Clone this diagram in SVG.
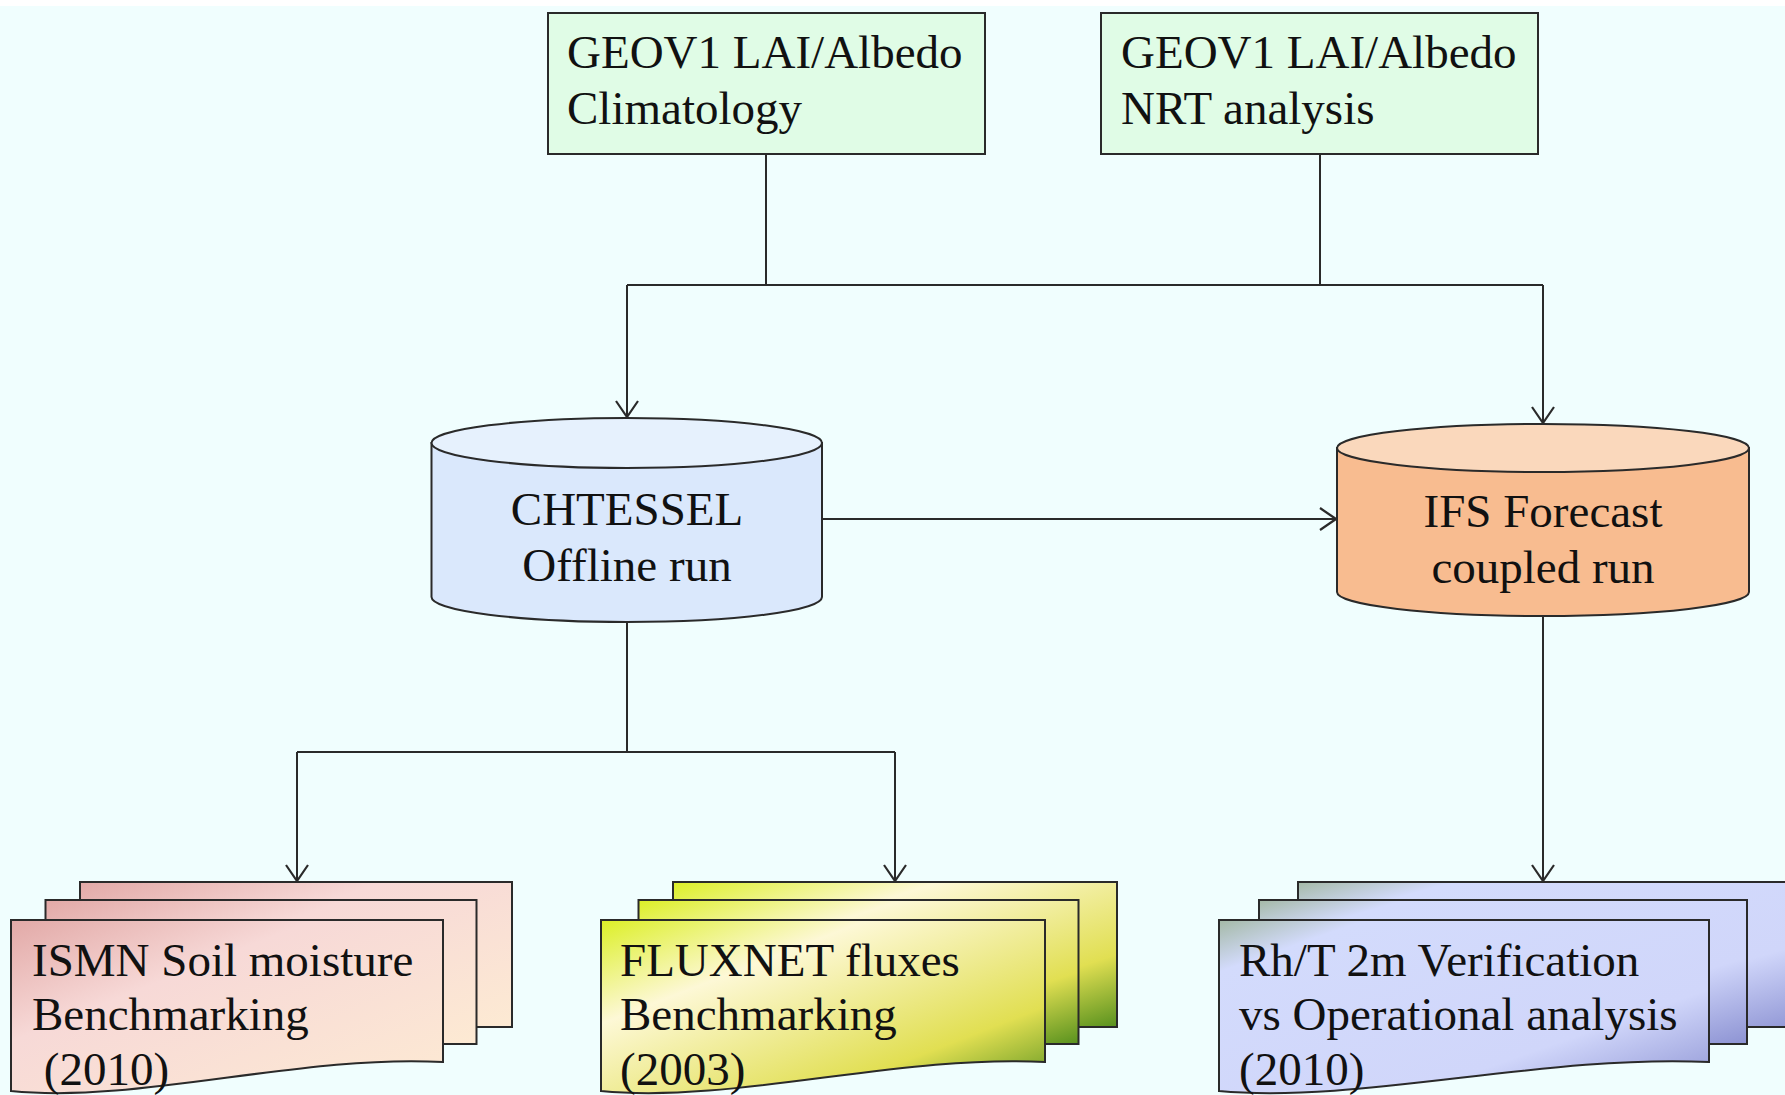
<svg xmlns="http://www.w3.org/2000/svg" width="1785" height="1095" viewBox="0 0 1785 1095">
<style>
.t{font-family:"Liberation Serif","Times New Roman",serif;font-size:47px;fill:#111}
.c{text-anchor:middle}
.box{fill:#e0fce6;stroke:#2a2a2a;stroke-width:2}
.ln{fill:none;stroke:#2a2a2a;stroke-width:2}
.pg{stroke:#2a2a2a;stroke-width:2}
</style>
<defs>
<marker id="ah" viewBox="0 0 18 24" refX="17" refY="12" markerWidth="18" markerHeight="24" markerUnits="userSpaceOnUse" orient="auto">
<path d="M1,1 L17,12 L1,23" fill="none" stroke="#2a2a2a" stroke-width="2.2"/>
</marker>
<linearGradient id="gIsmn" x1="0" y1="0" x2="1" y2="1">
<stop offset="0" stop-color="#e2a9a7"/><stop offset="0.35" stop-color="#f7d9d7"/><stop offset="1" stop-color="#fdead3"/>
</linearGradient>
<linearGradient id="gFlux" x1="0" y1="0" x2="1" y2="1">
<stop offset="0" stop-color="#dcef26"/><stop offset="0.3" stop-color="#fdf8d6"/><stop offset="0.75" stop-color="#e1df52"/><stop offset="1" stop-color="#58911e"/>
</linearGradient>
<linearGradient id="gRh" x1="0" y1="0" x2="1" y2="1">
<stop offset="0" stop-color="#a4b9a6"/><stop offset="0.15" stop-color="#d3dbfc"/><stop offset="0.7" stop-color="#d0d6fa"/><stop offset="1" stop-color="#8d93d3"/>
</linearGradient>
</defs>
<rect x="0" y="0" width="1785" height="1095" fill="#f0fefe"/>
<rect x="0" y="0" width="1785" height="6" fill="#ffffff"/>

<g id="connectors">
<path class="ln" d="M766,154 V285"/>
<path class="ln" d="M1320,154 V285"/>
<path class="ln" d="M627,285 H1543"/>
<path class="ln" d="M627,285 V417" marker-end="url(#ah)"/>
<path class="ln" d="M1543,285 V423" marker-end="url(#ah)"/>
<path class="ln" d="M822,519 H1336" marker-end="url(#ah)"/>
<path class="ln" d="M627,622 V752"/>
<path class="ln" d="M297,752 H895"/>
<path class="ln" d="M297,752 V881" marker-end="url(#ah)"/>
<path class="ln" d="M895,752 V881" marker-end="url(#ah)"/>
<path class="ln" d="M1543,616 V881" marker-end="url(#ah)"/>
</g>

<g id="geov1-climatology">
<rect class="box" x="548" y="13" width="437" height="141"/>
<text class="t" x="567" y="68">GEOV1 LAI/Albedo</text>
<text class="t" x="567" y="124">Climatology</text>
</g>

<g id="geov1-nrt">
<rect class="box" x="1101" y="13" width="437" height="141"/>
<text class="t" x="1121" y="68">GEOV1 LAI/Albedo</text>
<text class="t" x="1121" y="124">NRT analysis</text>
</g>

<g id="chtessel">
<path d="M431.5,443 V597 A195.25,25 0 0 0 822,597 V443 Z" fill="#dae8fc" stroke="#2a2a2a" stroke-width="2"/>
<ellipse cx="626.75" cy="443" rx="195.25" ry="25" fill="#e6f1fd" stroke="#2a2a2a" stroke-width="2"/>
<text class="t c" x="627" y="525">CHTESSEL</text>
<text class="t c" x="627" y="581">Offline run</text>
</g>

<g id="ifs">
<path d="M1337,448 V592 A206,24 0 0 0 1749,592 V448 Z" fill="#f8bc90" stroke="#2a2a2a" stroke-width="2"/>
<ellipse cx="1543" cy="448" rx="206" ry="24" fill="#fad8bc" stroke="#2a2a2a" stroke-width="2"/>
<text class="t c" x="1543" y="527">IFS Forecast</text>
<text class="t c" x="1543" y="583">coupled run</text>
</g>

<g id="ismn">
<rect class="pg" x="80" y="882" width="432" height="145" fill="url(#gIsmn)"/>
<rect class="pg" x="45.5" y="900" width="431" height="144" fill="url(#gIsmn)"/>
<path class="pg" d="M11,920 H443 V1062 C300,1054 140,1104 11,1091 Z" fill="url(#gIsmn)"/>
<text class="t" x="32" y="976">ISMN Soil moisture</text>
<text class="t" x="32" y="1030">Benchmarking</text>
<text class="t" x="32" y="1085" xml:space="preserve"> (2010)</text>
</g>

<g id="fluxnet">
<rect class="pg" x="673" y="882" width="444" height="145" fill="url(#gFlux)"/>
<rect class="pg" x="638.5" y="900" width="440" height="144" fill="url(#gFlux)"/>
<path class="pg" d="M601,920 H1045 V1062 C898,1054 734,1104 601,1091 Z" fill="url(#gFlux)"/>
<text class="t" x="620" y="976">FLUXNET fluxes</text>
<text class="t" x="620" y="1030">Benchmarking</text>
<text class="t" x="620" y="1085">(2003)</text>
</g>

<g id="rht">
<rect class="pg" x="1298" y="882" width="520" height="145" fill="url(#gRh)"/>
<rect class="pg" x="1259" y="900" width="488" height="144" fill="url(#gRh)"/>
<path class="pg" d="M1219,920 H1709 V1062 C1545,1054 1360,1104 1219,1091 Z" fill="url(#gRh)"/>
<text class="t" x="1239" y="976">Rh/T 2m Verification</text>
<text class="t" x="1239" y="1030">vs Operational analysis</text>
<text class="t" x="1239" y="1085">(2010)</text>
</g>
</svg>
